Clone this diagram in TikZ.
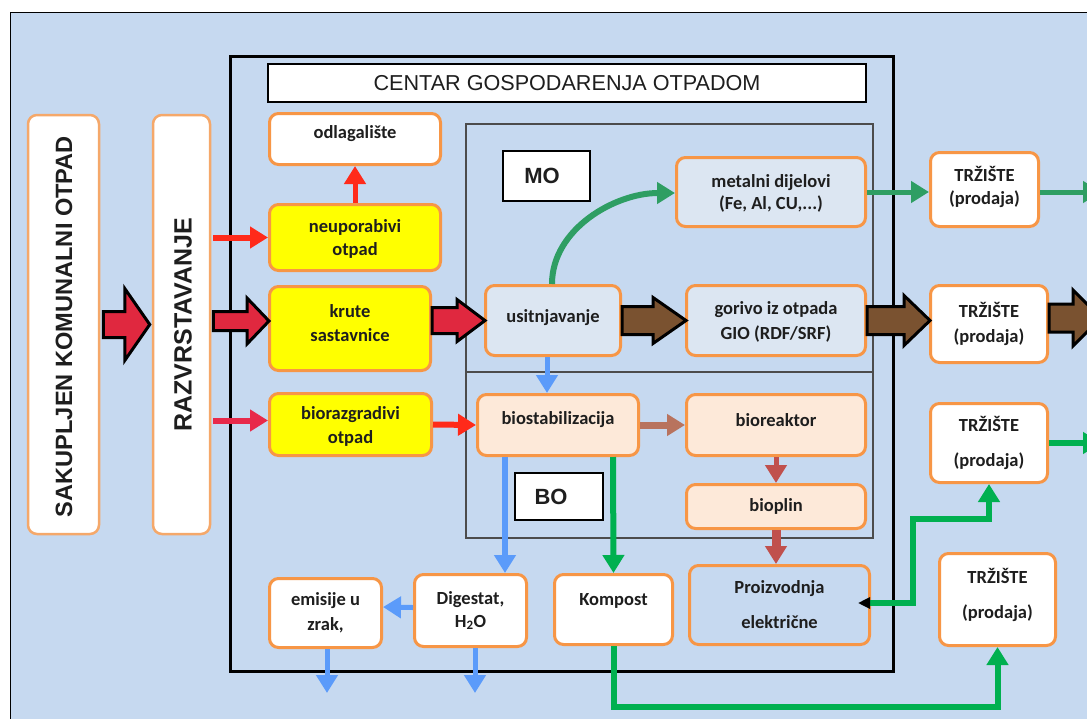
\documentclass[tikz,border=0pt]{standalone}
\usepackage{fontspec}
\setmainfont{Carlito}
\newfontfamily\arialf{Liberation Sans}
\usetikzlibrary{arrows.meta,calc}
\definecolor{bgblue}{HTML}{C6D9F0}
\definecolor{orng}{HTML}{F79646}
\definecolor{orngL}{HTML}{F5A86A}
\definecolor{lblue}{HTML}{DCE6F2}
\definecolor{peach}{HTML}{FDE9D9}
\definecolor{yel}{HTML}{FFFF00}
\definecolor{crim}{HTML}{E0283F}
\definecolor{crimA}{HTML}{E8294A}
\definecolor{brn}{HTML}{7A5230}
\definecolor{redA}{HTML}{FF2A1A}
\definecolor{blueA}{HTML}{5B9BFA}
\definecolor{greenA}{HTML}{00B050}
\definecolor{greenB}{HTML}{2E9E63}
\definecolor{brownA}{HTML}{B8735E}
\definecolor{dred}{HTML}{C0504D}
\definecolor{txt}{HTML}{1E1E1E}
\tikzset{
  box/.style={draw=orng, line width=3pt, rounded corners=9pt, inner sep=0pt},
  lbl/.style={text=txt, align=center, inner sep=0pt},
  ar/.style={-{Triangle[length=18pt,width=21pt]}},
  tagbox/.style={draw=black, line width=1.2pt, fill=white, inner sep=0pt},
}
\newcommand\mybox[6]{\node[box,#2,minimum width=#5pt,minimum height=#6pt] (#1) at (#3,#4) {};}
\newcommand\mytext[4]{\node[lbl,font=\fontsize{18.5}{#3}\selectfont\bfseries] (#1t) at ($(#1)+(0,#2)$) {#4};}
\newcommand\blockarr[6]{%
  \path let \p1=#1, \p2=#2 in [fill=#3, draw=black, line width=3pt, line join=miter]
   (\x1,{\y1+#4pt}) -- ({\x2-#6pt},{\y1+#4pt}) -- ({\x2-#6pt},{\y1+#5pt}) -- (\x2,\y1)
   -- ({\x2-#6pt},{\y1-#5pt}) -- ({\x2-#6pt},{\y1-#4pt}) -- (\x1,{\y1-#4pt}) -- cycle;}
\begin{document}
\begin{tikzpicture}[x=1pt,y=-1pt]
\useasboundingbox (0,0) rectangle (1087,718);
\clip (0,0) rectangle (1087,718);
\fill[white] (0,0) rectangle (1087,718);
\draw[black, line width=1pt, fill=bgblue] (10,12) rectangle (1110,740);
% centre frame and MO/BO frame
\draw[line width=3pt] (230,56) rectangle (893,671);
\draw[black!70, line width=1.2pt] (466,124) rectangle (873,538);
\draw[black!70, line width=1.2pt] (466,372) -- (873,372);
% title and tags
\node[tagbox, minimum width=598pt, minimum height=38pt, font=\arialf\fontsize{21.6}{24}\selectfont, text=txt] (title) at (567,83) {CENTAR GOSPODARENJA OTPADOM};
\node[tagbox, minimum width=87pt, minimum height=50pt, font=\arialf\bfseries\fontsize{22}{24}\selectfont, text=txt] (mo) at (546.5,176) {MO\hspace*{9pt}};
\node[tagbox, minimum width=88pt, minimum height=47pt, font=\arialf\bfseries\fontsize{22}{24}\selectfont, text=txt] (bo) at (559,496.5) {BO\hspace*{16pt}};
% boxes
\mybox{sak}{fill=white,draw=orngL,line width=2.5pt}{63.5}{324.5}{71}{419}
\mybox{raz}{fill=white,draw=orngL,line width=2.5pt}{181.5}{324.5}{57}{419}
\mybox{odl}{fill=white}{355}{139}{171}{51}
\mybox{neup}{fill=yel}{355}{237.5}{171}{66}
\mybox{krute}{fill=yel}{350}{328.5}{161}{84}
\mybox{bioraz}{fill=yel}{350.5}{424.5}{162}{62}
\mybox{usit}{fill=lblue}{553}{320.5}{135}{70}
\mybox{metal}{fill=lblue}{771}{192}{189}{69}
\mybox{gorivo}{fill=lblue}{776}{320.5}{179}{70}
\mybox{Ta}{fill=white}{984.5}{189.5}{108}{74}
\mybox{Tb}{fill=white}{989}{324}{117}{77}
\mybox{Tc}{fill=white}{989}{443}{117}{79}
\mybox{Td}{fill=white}{997.5}{599.5}{116}{92}
\mybox{biostab}{fill=peach}{558}{425}{161}{61}
\mybox{bioreak}{fill=peach}{776}{425}{179}{61}
\mybox{bioplin}{fill=peach}{776}{506.5}{179}{44}
\mybox{proiz}{fill=bgblue}{779.5}{605}{180}{79}
\mybox{kompost}{fill=white}{613.5}{609.5}{118}{70}
\mybox{digest}{fill=white}{470.5}{610.5}{112}{72}
\mybox{emis}{fill=white}{325.5}{613}{112}{69}
% texts
\node[lbl, rotate=90, font=\arialf\bfseries\fontsize{23.6}{26}\selectfont] (sakt) at ($(sak)+(0.5,2)$) {SAKUPLJEN KOMUNALNI OTPAD};
\node[lbl, rotate=90, font=\arialf\bfseries\fontsize{25}{28}\selectfont] (razt) at ($(raz)+(1.5,0)$) {RAZVRSTAVANJE};
\mytext{odl}{-5}{22}{odlagalište}
\mytext{neup}{1}{23}{neuporabivi\\otpad}
\mytext{krute}{-5}{24}{krute\\sastavnice}
\mytext{bioraz}{2}{24}{biorazgradivi\\otpad}
\mytext{usit}{-3}{22}{usitnjavanje}
\mytext{metal}{1.5}{22}{metalni dijelovi\\(Fe, Al, CU,...)}
\mytext{gorivo}{1}{25}{gorivo iz otpada\\GIO (RDF/SRF)}
\mytext{Ta}{-3}{23}{TRŽIŠTE\\(prodaja)}
\mytext{Tb}{0}{25}{TRŽIŠTE\\(prodaja)}
\mytext{Tc}{0}{35}{TRŽIŠTE\\(prodaja)}
\mytext{Td}{-5}{35}{TRŽIŠTE\\(prodaja)}
\mytext{biostab}{-5}{22}{biostabilizacija}
\mytext{bioreak}{-5}{22}{bioreaktor}
\mytext{bioplin}{0}{22}{bioplin}
\mytext{proiz}{0}{35}{Proizvodnja\\električne}
\mytext{kompost}{-9}{22}{Kompost}
\mytext{digest}{0}{23}{Digestat,\\H\textsubscript{2}O}
\mytext{emis}{0}{25}{emisije u\\zrak,}
% free ends
\coordinate (taout) at (1101,192);
\coordinate (tbout) at (1101,318);
\coordinate (tcout) at (1101,443);
\coordinate (eout) at (327,693);
\coordinate (dout) at (475,693);
% block arrows
\blockarr{($(sak.east)+(3,0)$)}{($(raz.west)+(-2,0)$)}{crim}{13}{36}{25}
\blockarr{($(raz.east)+(2,-3.5)$)}{($(krute.west)+(1,0)$)}{crim}{9.5}{23}{22}
\blockarr{($(krute.east)+(0,-8)$)}{($(usit.west)+(1,0)$)}{crim}{13}{21}{28}
\blockarr{(usit.east)}{($(gorivo.west)+(1,0)$)}{brn}{14}{23}{33}
\blockarr{(gorivo.east)}{($(Tb.west)+(1,0)$)}{brn}{14}{25}{26}
\blockarr{($(Tb.east)+(0,-6)$)}{(tbout)}{brn}{14}{28}{28}
% thin arrows
\draw[ar, redA, line width=6pt] ($(raz.east |- neup.west)+(2,0)$) -- (neup.west);
\draw[ar, redA, line width=5pt] (neup.north) -- (odl.south);
\draw[ar, crimA, line width=6pt] ($(raz.east |- bioraz.west)+(2,-4)$) -- ($(bioraz.west)+(0,-4)$);
\draw[ar, redA, line width=6pt] (bioraz.east) -- (biostab.west);
\draw[ar, blueA, line width=5pt] ($(usit.south)+(-6,0)$) -- ($(biostab.north)+(-11,0)$);
\draw[ar, brownA, line width=7pt] (biostab.east) -- (bioreak.west);
\draw[ar, dred, line width=5pt] (bioreak.south) -- (bioplin.north);
\draw[ar, dred, line width=9pt] (bioplin.south) -- (bioplin.south |- proiz.north);
\draw[ar, blueA, line width=6pt] ($(biostab.south)+(-53,0)$) -- ($(digest.north)+(34.5,0)$);
\draw[ar, greenA, line width=6pt] ($(biostab.south)+(55,0)$) -- (kompost.north);
\draw[ar, blueA, line width=5pt] ($(digest.west)+(0,-3)$) -- ($(emis.east)+(0,-6)$);
\draw[ar, blueA, line width=5pt] ($(emis.south)+(1.5,0)$) -- (eout);
\draw[ar, blueA, line width=5pt] ($(digest.south)+(4.5,0)$) -- (dout);
\draw[ar, greenB, line width=6pt] ($(usit.north)+(-1,0)$) .. controls +(0,-55) and +(-60,0) .. ($(metal.west)+(0,1)$);
\draw[ar, greenB, line width=5pt] (metal.east) -- (metal.east -| Ta.west);
\draw[ar, greenB, line width=5pt] (Ta.east |- metal.east) -- (taout);
\draw[ar, greenA, line width=6pt] (Tc.east) -- (tcout);
\draw[ar, greenA, line width=6pt] (kompost.south) -- ($(kompost.south)+(0,61)$) -| (Td.south);
\draw[greenA, line width=6pt, {Triangle[color=black,length=12pt,width=11pt]}-{Triangle[length=18pt,width=21pt]}] ($(proiz.east)+(-13,-2)$) -- ($(proiz.east)+(42,-2)$) |- ($(Tc.south)+(0,35)$) -- (Tc.south);
\end{tikzpicture}
\end{document}
